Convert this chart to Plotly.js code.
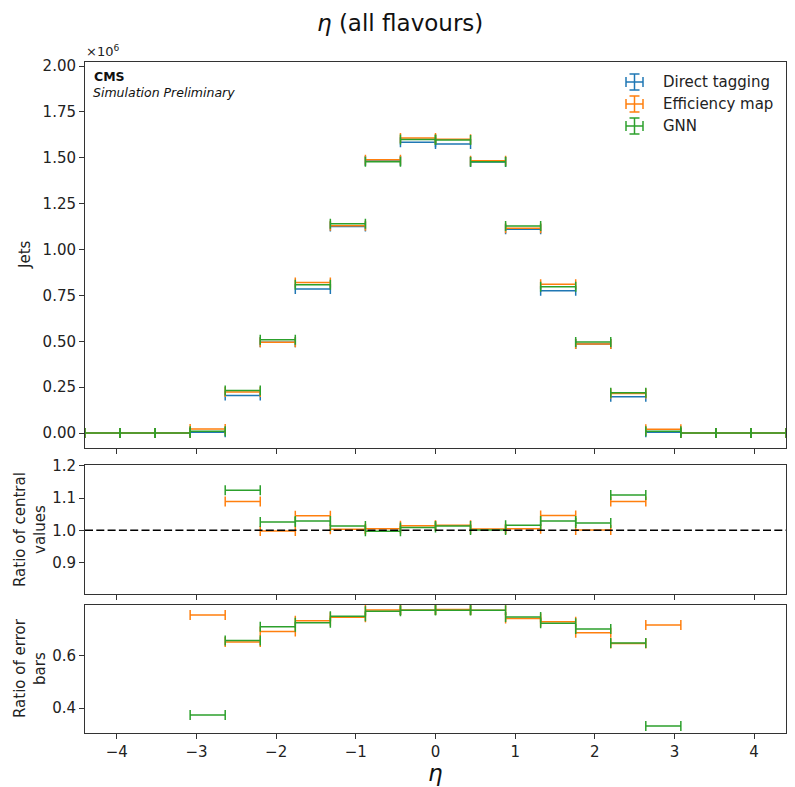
<!DOCTYPE html>
<html>
<head>
<meta charset="utf-8">
<script src="https://cdn.plot.ly/plotly-3.0.1.min.js"></script>
<style>
  html, body { margin: 0; padding: 0; background: #fff; }
  #plot { width: 795px; height: 787px; }
</style>
</head>
<body>
<div id="plot"></div>
<script>
// Pseudorapidity bin edges (20 bins of width 0.44)
const etaEdges = [-4.4, -3.96, -3.52, -3.08, -2.64, -2.2, -1.76, -1.32, -0.88, -0.44, 0,
                  0.44, 0.88, 1.32, 1.76, 2.2, 2.64, 3.08, 3.52, 3.96, 4.4];

// Jet counts per bin, in units of 10^6
const jetsDirect = [0, 0, 0, 0.004, 0.205, 0.495, 0.785, 1.126, 1.482, 1.585,
                    1.575, 1.477, 1.110, 0.775, 0.485, 0.197, 0.004, 0, 0, 0];
const jetsEffMap = [0, 0, 0, 0.022, 0.224, 0.494, 0.820, 1.129, 1.489, 1.607,
                    1.601, 1.483, 1.116, 0.810, 0.485, 0.215, 0.021, 0, 0, 0];
const jetsGNN    = [0, 0, 0, 0.010, 0.231, 0.508, 0.808, 1.141, 1.478, 1.599,
                    1.597, 1.478, 1.128, 0.797, 0.496, 0.219, 0.009, 0, 0, 0];

// Ratio of central values (to direct tagging)
const ratioCentralEffMap = [null, null, null, null, 1.089, 0.998, 1.045, 1.003, 1.005, 1.014,
                            1.016, 1.004, 1.005, 1.046, 1.001, 1.089, null, null, null, null];
const ratioCentralGNN    = [null, null, null, null, 1.124, 1.026, 1.029, 1.013, 0.997, 1.009,
                            1.013, 1.001, 1.016, 1.029, 1.023, 1.109, null, null, null, null];

// Ratio of error bars (to direct tagging)
const ratioErrEffMap = [null, null, null, 0.757, 0.653, 0.693, 0.735, 0.748, 0.776, 0.776,
                        0.778, 0.775, 0.743, 0.731, 0.689, 0.648, 0.718, null, null, null];
const ratioErrGNN    = [null, null, null, 0.374, 0.659, 0.712, 0.727, 0.752, 0.771, 0.775,
                        0.775, 0.775, 0.749, 0.725, 0.703, 0.649, 0.332, null, null, null];

const seriesNames = ['Direct tagging', 'Efficiency map', 'GNN'];
const xTicks = [-4, -3, -2, -1, 0, 1, 2, 3, 4];

const COLORS = ['#1f77b4', '#ff7f0e', '#2ca02c'];
const FONT = 'DejaVu Sans, Liberation Sans, sans-serif';
const W = 795, H = 787;
const px = v => v / W;          // pixel -> paper x
const py = v => 1 - v / H;      // pixel -> paper y

const centers = etaEdges.slice(0, -1).map((e, i) => (e + etaEdges[i + 1]) / 2);
const halfW = etaEdges.slice(0, -1).map((e, i) => (etaEdges[i + 1] - e) / 2);

function binTrace(values, color, xa, ya, name) {
  return {
    type: 'scatter', mode: 'markers', name: name, showlegend: false,
    x: centers, y: values, xaxis: xa, yaxis: ya,
    marker: { size: 0, color: 'rgba(0,0,0,0)' },
    error_x: { type: 'data', array: halfW, symmetric: true,
               color: color, thickness: 1.5, width: 5 },
    hoverinfo: 'x+y'
  };
}

const traces = [
  binTrace(jetsDirect, COLORS[0], 'x', 'y', seriesNames[0]),
  binTrace(jetsEffMap, COLORS[1], 'x', 'y', seriesNames[1]),
  binTrace(jetsGNN, COLORS[2], 'x', 'y', seriesNames[2]),
  binTrace(ratioCentralEffMap, COLORS[1], 'x2', 'y2', seriesNames[1]),
  binTrace(ratioCentralGNN, COLORS[2], 'x2', 'y2', seriesNames[2]),
  binTrace(ratioErrEffMap, COLORS[1], 'x3', 'y3', seriesNames[1]),
  binTrace(ratioErrGNN, COLORS[2], 'x3', 'y3', seriesNames[2])
];

const xDomain = [px(85), px(786)];
const axisCommon = {
  showline: true, linecolor: '#333', linewidth: 1, mirror: true,
  ticks: 'outside', ticklen: 5, tickwidth: 1, tickcolor: '#333',
  showgrid: false, zeroline: false,
  tickfont: { family: FONT, size: 15, color: '#222' }
};
function xAxis(anchor, labels) {
  return Object.assign({}, axisCommon, {
    domain: xDomain, anchor: anchor, range: [-4.4, 4.4],
    tickmode: 'array', tickvals: xTicks,
    ticktext: xTicks.map(t => (t < 0 ? '\u2212' + Math.abs(t) : String(t))),
    showticklabels: labels
  });
}

const layout = {
  width: W, height: H,
  margin: { l: 0, r: 0, t: 0, b: 0 },
  paper_bgcolor: '#fff', plot_bgcolor: '#fff',
  showlegend: false,
  font: { family: FONT, color: '#222' },
  xaxis: xAxis('y', false),
  xaxis2: xAxis('y2', false),
  xaxis3: xAxis('y3', true),
  yaxis: Object.assign({}, axisCommon, {
    domain: [py(447.7), py(62)], anchor: 'x', range: [-0.0801, 2.0218],
    tickmode: 'array', tickvals: [0, 0.25, 0.5, 0.75, 1, 1.25, 1.5, 1.75, 2],
    tickformat: '.2f'
  }),
  yaxis2: Object.assign({}, axisCommon, {
    domain: [py(594), py(465)], anchor: 'x2', range: [0.8028, 1.2022],
    tickmode: 'array', tickvals: [0.9, 1.0, 1.1, 1.2], tickformat: '.1f'
  }),
  yaxis3: Object.assign({}, axisCommon, {
    domain: [py(733.3), py(604.7)], anchor: 'x3', range: [0.304, 0.796],
    tickmode: 'array', tickvals: [0.4, 0.6], tickformat: '.1f'
  }),
  shapes: [
    { type: 'line', xref: 'x2 domain', yref: 'y2', x0: 0, x1: 1, y0: 1, y1: 1,
      line: { color: '#000', width: 1.5, dash: '8px,3.3px' } }
  ],
  annotations: [
    { text: '<i>η</i> (all flavours)', xref: 'paper', yref: 'paper',
      x: px(400), y: py(23), xanchor: 'center', yanchor: 'middle', showarrow: false,
      font: { family: FONT, size: 23, color: '#111' } },
    { text: '<i>η</i>', xref: 'paper', yref: 'paper',
      x: px(435.5), y: py(773), xanchor: 'center', yanchor: 'middle', showarrow: false,
      font: { family: FONT, size: 23, color: '#111' } },
    { text: '×10<sup>6</sup>', xref: 'paper', yref: 'paper',
      x: px(84), y: py(51), xanchor: 'left', yanchor: 'middle', showarrow: false,
      font: { family: FONT, size: 13, color: '#222' } },
    { text: '<b>CMS</b>', xref: 'paper', yref: 'paper',
      x: px(92), y: py(76), xanchor: 'left', yanchor: 'middle', showarrow: false,
      font: { family: FONT, size: 12.5, color: '#111' } },
    { text: '<i>Simulation Preliminary</i>', xref: 'paper', yref: 'paper',
      x: px(91), y: py(92), xanchor: 'left', yanchor: 'middle', showarrow: false,
      font: { family: FONT, size: 12.5, color: '#111' } },
    { text: 'Jets', xref: 'paper', yref: 'paper', textangle: -90,
      x: px(25), y: py(255), xanchor: 'center', yanchor: 'middle', showarrow: false,
      font: { family: FONT, size: 15, color: '#222' } },
    { text: 'Ratio of central<br>values', xref: 'paper', yref: 'paper', textangle: -90,
      x: px(30), y: py(530), xanchor: 'center', yanchor: 'middle', showarrow: false,
      font: { family: FONT, size: 15, color: '#222' } },
    { text: 'Ratio of error<br>bars', xref: 'paper', yref: 'paper', textangle: -90,
      x: px(30), y: py(668), xanchor: 'center', yanchor: 'middle', showarrow: false,
      font: { family: FONT, size: 15, color: '#222' } }
  ]
};

// Legend: error-bar glyph followed by the series name
const legendRows = [82, 104, 126];
const icx = 634.5, hw = 8.5, hh = 8, cap = 5;
seriesNames.forEach((name, i) => {
  const cy = legendRows[i], c = COLORS[i];
  const seg = (x0, y0, x1, y1) => ({
    type: 'line', xref: 'paper', yref: 'paper',
    x0: px(x0), y0: py(y0), x1: px(x1), y1: py(y1),
    line: { color: c, width: 1.5 }
  });
  layout.shapes.push(
    seg(icx - hw, cy, icx + hw, cy),
    seg(icx - hw, cy - cap, icx - hw, cy + cap),
    seg(icx + hw, cy - cap, icx + hw, cy + cap),
    seg(icx, cy - hh, icx, cy + hh),
    seg(icx - cap, cy - hh, icx + cap, cy - hh),
    seg(icx - cap, cy + hh, icx + cap, cy + hh)
  );
  layout.annotations.push({
    text: name, xref: 'paper', yref: 'paper', x: px(661), y: py(cy),
    xanchor: 'left', yanchor: 'middle', showarrow: false,
    font: { family: FONT, size: 15, color: '#222' }
  });
});

Plotly.newPlot('plot', traces, layout, { staticPlot: true, displayModeBar: false });
</script>
</body>
</html>
